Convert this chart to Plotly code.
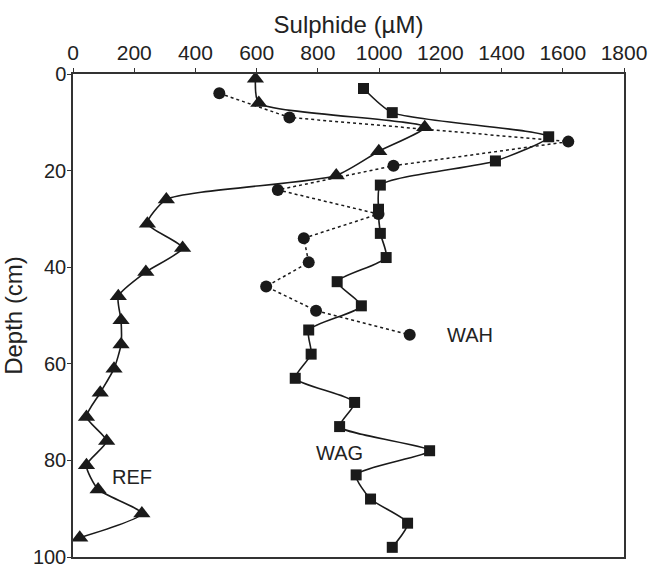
import plotly.graph_objects as go

ref_depth = [1, 6, 11, 16, 21, 26, 31, 36, 41, 46, 51, 56, 61, 66, 71, 76, 81, 86, 91, 96]
ref_sulphide = [596, 607, 1149, 999, 860, 305, 243, 358, 238, 148, 157, 157, 134, 89, 44, 110, 44, 82, 225, 22]

wag_depth = [3, 8, 13, 18, 23, 28, 33, 38, 43, 48, 53, 58, 63, 68, 73, 78, 83, 88, 93, 98]
wag_sulphide = [949, 1043, 1554, 1380, 1004, 998, 1004, 1023, 863, 942, 770, 778, 726, 920, 871, 1165, 925, 972, 1093, 1043]

wah_depth = [4, 9, 14, 19, 24, 29, 34, 39, 44, 49, 54]
wah_sulphide = [478, 707, 1618, 1047, 669, 998, 754, 770, 631, 794, 1100]

x_ticks = [0, 200, 400, 600, 800, 1000, 1200, 1400, 1600, 1800]
y_ticks = [0, 20, 40, 60, 80, 100]

FONT = "Liberation Sans, Arial, sans-serif"
INK = "#1a1a1a"

fig = go.Figure()
fig.add_trace(go.Scatter(
    x=ref_sulphide, y=ref_depth, mode="lines+markers", name="REF",
    line=dict(color=INK, width=1.6, shape="spline", smoothing=0.6),
    marker=dict(symbol="triangle-up", size=15, color=INK),
))
fig.add_trace(go.Scatter(
    x=wag_sulphide, y=wag_depth, mode="lines+markers", name="WAG",
    line=dict(color=INK, width=1.6, shape="spline", smoothing=0.6),
    marker=dict(symbol="square", size=11, color=INK),
))
fig.add_trace(go.Scatter(
    x=wah_sulphide, y=wah_depth, mode="lines+markers", name="WAH",
    line=dict(color=INK, width=1.5, dash="dot"),
    marker=dict(symbol="circle", size=12, color=INK),
))

for txt, xv, yv in [("WAH", 1215, 54), ("WAG", 871, 78.5), ("REF", 193, 83.5)]:
    fig.add_annotation(x=xv, y=yv, text=txt, showarrow=False,
                       xanchor="left" if txt == "WAH" else "center",
                       font=dict(family=FONT, size=20, color="#222222"))

fig.update_layout(
    width=649, height=567,
    margin=dict(l=73, r=25, t=74, b=10),
    paper_bgcolor="white", plot_bgcolor="white",
    showlegend=False,
    font=dict(family=FONT, size=20, color="#222222"),
)
fig.update_xaxes(
    side="top", range=[0, 1800], tickvals=x_ticks, ticks="outside", ticklen=4,
    tickcolor="#333333", showline=True, linecolor="#333333", linewidth=1.5,
    mirror=True, showgrid=False, zeroline=False, automargin=False,
    ticklabeloverflow="allow",
    title=dict(text="Sulphide (µM)", font=dict(size=24), standoff=0),
    tickfont=dict(size=21),
)
fig.update_yaxes(
    range=[100, 0], tickvals=y_ticks, ticks="outside", ticklen=4,
    tickcolor="#333333", showline=True, linecolor="#333333", linewidth=1.5,
    mirror=True, showgrid=False, zeroline=False, automargin=False,
    ticklabeloverflow="allow", ticklabelstandoff=-3,
    title=dict(text="Depth (cm)", font=dict(size=24), standoff=15),
    tickfont=dict(size=20),
)

fig.write_html(
    "out.html",
    config={"displayModeBar": False},
    post_script="document.body.style.margin='0';document.body.style.overflow='hidden';",
)
